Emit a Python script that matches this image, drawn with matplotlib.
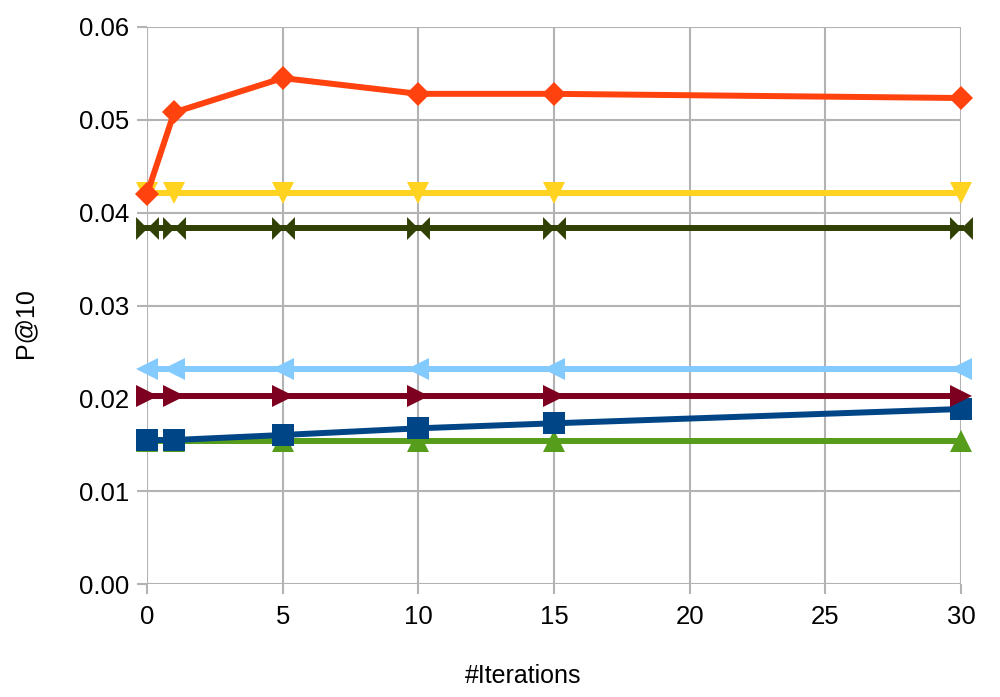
import matplotlib
matplotlib.use("Agg")
import matplotlib.pyplot as plt
from matplotlib.path import Path
import numpy as np

plt.rcParams['font.family'] = ['Liberation Sans', 'DejaVu Sans']

iterations = [0, 1, 5, 10, 15, 30]
orange = [0.0420, 0.0508, 0.0545, 0.0528, 0.0528, 0.05235]
yellow = [0.0421, 0.0421, 0.0421, 0.0421, 0.0421, 0.0421]
olive = [0.03835, 0.03835, 0.03835, 0.03835, 0.03835, 0.03835]
lightblue = [0.02317, 0.02317, 0.02317, 0.02317, 0.02317, 0.02317]
darkred = [0.02028, 0.02028, 0.02028, 0.02028, 0.02028, 0.02028]
blue = [0.01551, 0.01551, 0.01605, 0.01677, 0.01731, 0.01885]
green = [0.0154, 0.0154, 0.0154, 0.0154, 0.0154, 0.0154]

xticks = [0, 5, 10, 15, 20, 25, 30]
yticks = [0.00, 0.01, 0.02, 0.03, 0.04, 0.05, 0.06]

bowtie = Path([(-1, -1), (-1, 1), (0, 0), (1, 1), (1, -1), (0, 0), (-1, -1)],
              [Path.MOVETO, Path.LINETO, Path.LINETO, Path.LINETO, Path.LINETO, Path.LINETO, Path.CLOSEPOLY])

fig = plt.figure(figsize=(10, 6.97), dpi=100)
ax = fig.add_axes([0.147, 1 - 584/697, 0.961 - 0.147, (584 - 27)/697])

lw = 4.3
series = [
    (green, '#579d1c', '^', 16),
    (blue, '#004586', 's', 16),
    (darkred, '#7e0021', '>', 16),
    (lightblue, '#83caff', '<', 16),
    (olive, '#314004', bowtie, 16.5),
    (yellow, '#ffd320', 'v', 16),
    (orange, '#ff420e', 'D', 12),
]
for vals, col, mk, ms in series:
    ax.plot(iterations, vals, color=col, lw=lw, marker=mk, markersize=ms,
            markeredgewidth=0, clip_on=False, zorder=3)

ax.set_xlim(0, 30)
ax.set_ylim(0, 0.06)
ax.set_xticks(xticks)
ax.set_yticks(yticks)
ax.set_xticklabels([str(t) for t in xticks])
ax.set_yticklabels([f"{t:.2f}" for t in yticks])
ax.grid(True, color='#b3b3b3', lw=1.5, zorder=0)
for s in ax.spines.values():
    s.set_visible(False)
ax.tick_params(axis='both', which='both', direction='out', length=7, width=1.5,
               color='#b3b3b3', labelsize=18.5)
ax.tick_params(axis='x', pad=8)
ax.tick_params(axis='y', pad=6)
ax.set_axisbelow(True)

fig.text(0.523, 1 - 676/697, '#Iterations', ha='center', va='center', fontsize=18)
fig.text(0.025, 1 - 323/697, 'P@10', ha='center', va='center', fontsize=18, rotation=90)

fig.savefig('out.png', dpi=100)
